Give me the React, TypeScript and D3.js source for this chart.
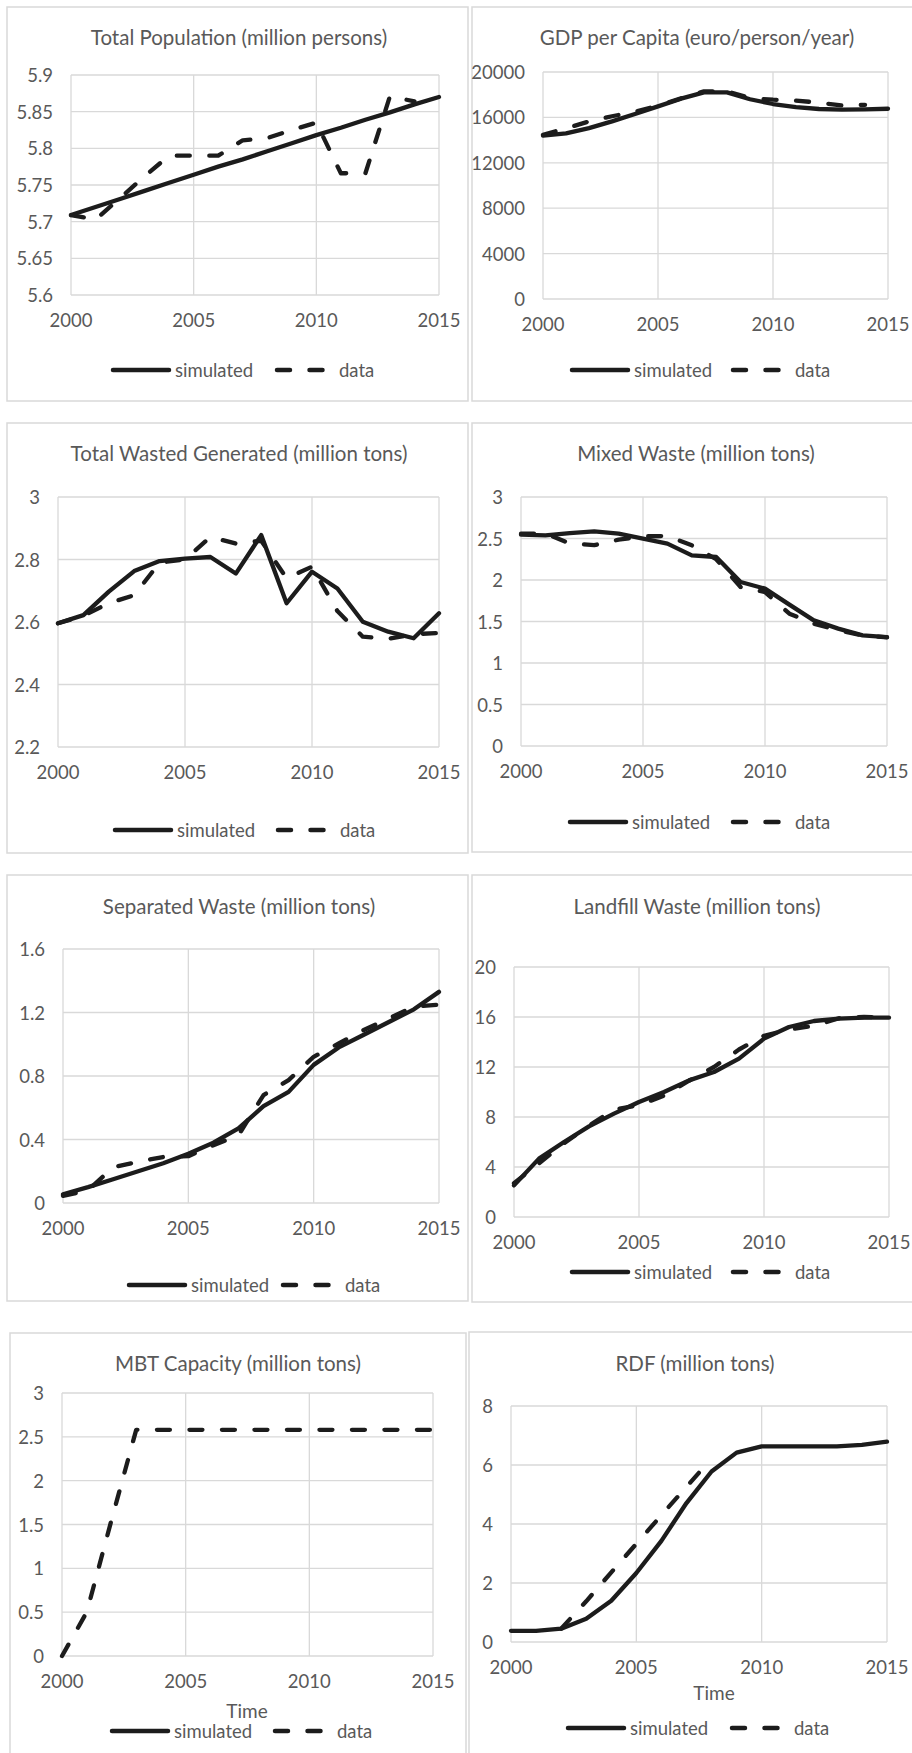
import React from "react";
import { scaleLinear, line } from "d3";

const years = [2000, 2001, 2002, 2003, 2004, 2005, 2006, 2007, 2008, 2009, 2010, 2011, 2012, 2013, 2014, 2015];
const xTicks = [2000, 2005, 2010, 2015];

const populationSimulated = [5.709, 5.72, 5.731, 5.742, 5.753, 5.764, 5.775, 5.785, 5.796, 5.807, 5.818, 5.828, 5.839, 5.849, 5.86, 5.87];
const populationData = [5.709, 5.703, 5.732, 5.762, 5.79, 5.79, 5.79, 5.811, 5.814, 5.825, 5.835, 5.766, 5.766, 5.871, 5.864, null];
const populationTicks = [5.6, 5.65, 5.7, 5.75, 5.8, 5.85, 5.9];

const gdpSimulated = [14400, 14600, 15050, 15650, 16300, 16970, 17650, 18200, 18200, 17600, 17180, 16900, 16740, 16680, 16700, 16760];
const gdpData = [14470, 15030, 15650, 16100, 16500, 17030, 17680, 18300, 18300, 17700, 17560, 17480, 17300, 17050, 17100, null];
const gdpTicks = [0, 4000, 8000, 12000, 16000, 20000];

const wasteSimulated = [2.596, 2.622, 2.697, 2.763, 2.795, 2.803, 2.808, 2.755, 2.878, 2.66, 2.761, 2.707, 2.601, 2.569, 2.548, 2.628];
const wasteData = [2.596, 2.62, 2.66, 2.686, 2.79, 2.8, 2.872, 2.851, 2.86, 2.74, 2.777, 2.635, 2.553, 2.546, 2.561, 2.565];
const wasteTicks = [2.2, 2.4, 2.6, 2.8, 3];

const mixedSimulated = [2.546, 2.538, 2.566, 2.586, 2.558, 2.498, 2.438, 2.297, 2.277, 1.976, 1.896, 1.703, 1.514, 1.414, 1.333, 1.313];
const mixedData = [2.558, 2.56, 2.44, 2.42, 2.486, 2.526, 2.53, 2.418, 2.25, 1.916, 1.855, 1.594, 1.474, 1.394, 1.333, 1.31];
const mixedTicks = [0, 0.5, 1, 1.5, 2, 2.5, 3];

const separatedSimulated = [0.055, 0.1, 0.15, 0.2, 0.25, 0.31, 0.38, 0.47, 0.61, 0.7, 0.87, 0.98, 1.06, 1.14, 1.22, 1.33];
const separatedData = [0.045, 0.08, 0.225, 0.26, 0.29, 0.295, 0.364, 0.427, 0.68, 0.774, 0.921, 1.005, 1.09, 1.163, 1.236, 1.25];
const separatedTicks = [0, 0.4, 0.8, 1.2, 1.6];

const landfillSimulated = [2.53, 4.67, 6.0, 7.25, 8.27, 9.2, 10.0, 10.93, 11.6, 12.67, 14.27, 15.2, 15.68, 15.87, 15.95, 15.95];
const landfillData = [2.7, 4.3, 5.9, 7.3, 8.6, 8.95, 9.7, 10.9, 12.0, 13.4, 14.5, 15.0, 15.3, 15.9, 16.0, 15.95];
const landfillTicks = [0, 4, 8, 12, 16, 20];

const mbtSimulated: (number | null)[] = [];
const mbtData = [0, 0.5, 1.55, 2.58, 2.58, 2.58, 2.58, 2.58, 2.58, 2.58, 2.58, 2.58, 2.58, 2.58, 2.58, 2.58];
const mbtTicks = [0, 0.5, 1, 1.5, 2, 2.5, 3];

const rdfSimulated = [0.38, 0.38, 0.45, 0.79, 1.4, 2.34, 3.43, 4.71, 5.78, 6.42, 6.63, 6.63, 6.63, 6.63, 6.68, 6.79];
const rdfData = [null, null, 0.45, 1.38, 2.36, 3.33, 4.3, 5.26, 6.22, null, null, null, null, null, null, null];
const rdfTicks = [0, 2, 4, 6, 8];

const GRID = "#d9d9d9";
const TEXT = "#595959";
const INK = "#1c1c1c";
const FONT = "Lato, 'Liberation Sans', sans-serif";

const panels = [
  { title: "Total Population (million persons)", sim: populationSimulated, obs: populationData, ticks: populationTicks,
    box: [7, 7, 461, 394], plot: [71, 75, 439, 295], titleX: 239, titleY: 37, legX: 113, dashX: 277, legY: 370 },
  { title: "GDP per Capita (euro/person/year)", sim: gdpSimulated, obs: gdpData, ticks: gdpTicks,
    box: [472, 7, 445, 394], plot: [543, 72, 888, 299], titleX: 697, titleY: 37, legX: 572, dashX: 733, legY: 370 },
  { title: "Total Wasted Generated (million tons)", sim: wasteSimulated, obs: wasteData, ticks: wasteTicks,
    box: [7, 423, 461, 430], plot: [58, 497, 439, 747], titleX: 239, titleY: 453, legX: 115, dashX: 278, legY: 830 },
  { title: "Mixed Waste (million tons)", sim: mixedSimulated, obs: mixedData, ticks: mixedTicks,
    box: [472, 423, 445, 429], plot: [521, 497, 887, 746], titleX: 696, titleY: 453, legX: 570, dashX: 733, legY: 822 },
  { title: "Separated Waste (million tons)", sim: separatedSimulated, obs: separatedData, ticks: separatedTicks,
    box: [7, 875, 461, 426], plot: [63, 949, 439, 1203], titleX: 239, titleY: 906, legX: 129, dashX: 283, legY: 1285 },
  { title: "Landfill Waste (million tons)", sim: landfillSimulated, obs: landfillData, ticks: landfillTicks,
    box: [472, 875, 445, 427], plot: [514, 967, 889, 1217], titleX: 697, titleY: 906, legX: 572, dashX: 733, legY: 1272 },
  { title: "MBT Capacity (million tons)", sim: mbtSimulated, obs: mbtData, ticks: mbtTicks,
    box: [10, 1333, 456, 430], plot: [62, 1393, 433, 1656], titleX: 238, titleY: 1363, legX: 112, dashX: 275, legY: 1731,
    timeX: 247, timeY: 1710 },
  { title: "RDF (million tons)", sim: rdfSimulated, obs: rdfData, ticks: rdfTicks,
    box: [469, 1332, 448, 430], plot: [511, 1406, 887, 1642], titleX: 695, titleY: 1363, legX: 568, dashX: 732, legY: 1728,
    timeX: 714, timeY: 1692 },
];

type Cfg = (typeof panels)[number] & { timeX?: number; timeY?: number };

function Panel({ cfg }: { cfg: Cfg }) {
  const [left, top, right, bottom] = cfg.plot;
  const x = scaleLinear().domain([2000, 2015]).range([left, right]);
  const y = scaleLinear()
    .domain([cfg.ticks[0], cfg.ticks[cfg.ticks.length - 1]])
    .range([bottom, top]);
  const path = line<number | null>()
    .defined((d) => d != null)
    .x((_, i) => x(years[i]))
    .y((d) => y(d as number));
  const simPath = cfg.sim.length ? path(cfg.sim) : null;
  const obsPath = path(cfg.obs);

  return (
    <g>
      <rect x={cfg.box[0]} y={cfg.box[1]} width={cfg.box[2]} height={cfg.box[3]} fill="#fff" stroke={GRID} strokeWidth={1.5} />
      <text x={cfg.titleX} y={cfg.titleY} textAnchor="middle" dominantBaseline="central" fontSize={20.5} fill={TEXT}>
        {cfg.title}
      </text>
      {cfg.ticks.map((t) => (
        <g key={"y" + t}>
          <line x1={left} x2={right} y1={y(t)} y2={y(t)} stroke={GRID} strokeWidth={1.3} />
          <text x={left - 18} y={y(t)} textAnchor="end" dominantBaseline="central" fontSize={18.5} fill={TEXT}>
            {t}
          </text>
        </g>
      ))}
      {xTicks.map((t) => (
        <g key={"x" + t}>
          <line x1={x(t)} x2={x(t)} y1={top} y2={bottom} stroke={GRID} strokeWidth={1.3} />
          <text x={x(t)} y={bottom + 25} textAnchor="middle" dominantBaseline="central" fontSize={18.5} fill={TEXT}>
            {t}
          </text>
        </g>
      ))}
      {cfg.timeX != null && (
        <text x={cfg.timeX} y={cfg.timeY} textAnchor="middle" dominantBaseline="central" fontSize={19} fill={TEXT}>
          Time
        </text>
      )}
      {simPath && (
        <path d={simPath} fill="none" stroke={INK} strokeWidth={4.3} strokeLinejoin="round" strokeLinecap="round" />
      )}
      {obsPath && (
        <path d={obsPath} fill="none" stroke={INK} strokeWidth={4.3} strokeLinejoin="round" strokeLinecap="round"
          strokeDasharray="13 19.5" />
      )}
      <line x1={cfg.legX} x2={cfg.legX + 56} y1={cfg.legY} y2={cfg.legY} stroke={INK} strokeWidth={4.5} strokeLinecap="round" />
      <text x={cfg.legX + 62} y={cfg.legY} dominantBaseline="central" fontSize={18.5} fill={TEXT}>simulated</text>
      <line x1={cfg.dashX} x2={cfg.dashX + 48} y1={cfg.legY} y2={cfg.legY} stroke={INK} strokeWidth={4.5} strokeLinecap="round"
        strokeDasharray="13 19.5" />
      <text x={cfg.dashX + 62} y={cfg.legY} dominantBaseline="central" fontSize={18.5} fill={TEXT}>data</text>
    </g>
  );
}

export default function App() {
  return (
    <svg width={912} height={1753} style={{ position: "absolute", left: 0, top: 0, background: "#fff" }}
      fontFamily={FONT}>
      <rect x={0} y={0} width={912} height={1753} fill="#fff" />
      {panels.map((p) => (
        <Panel key={p.title} cfg={p as Cfg} />
      ))}
    </svg>
  );
}
